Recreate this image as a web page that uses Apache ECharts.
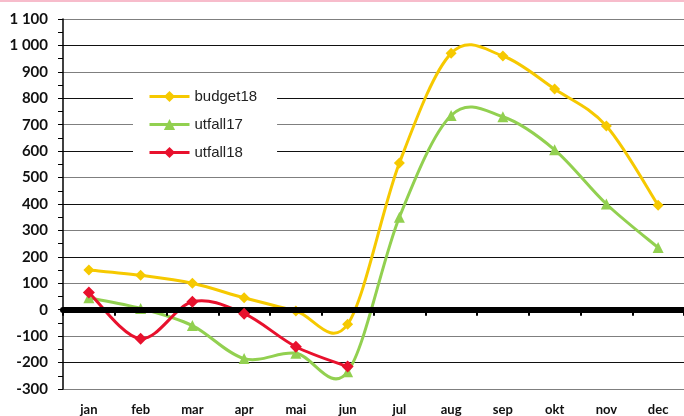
<!DOCTYPE html>
<html><head><meta charset="utf-8">
<script src="https://cdn.jsdelivr.net/npm/echarts@6/dist/echarts.min.js"></script>
<style>html,body{margin:0;padding:0;background:#fff}#c{width:684px;height:416px}</style>
</head><body><div id="c"></div>
<script>
var months = ['jan','feb','mar','apr','mai','jun','jul','aug','sep','okt','nov','dec'];
var budget18 = [150,130,100,45,-5,-55,555,970,960,835,695,395];
var utfall17 = [45,5,-60,-185,-165,-235,350,735,730,605,400,235];
var utfall18 = [65,-110,30,-15,-140,-215];
var yMin = -300, yMax = 1100, yStep = 100;

var COLORS = {budget18:'#f6c900', utfall17:'#92d050', utfall18:'#e8112d'};

// Excel-like (Catmull-Rom) smoothed curve drawn segment by segment through the axis scales
function curveSeries(name, arr, z){
  return {
    name: name+'_curve', type:'custom', z:z, silent:true,
    data: arr.map(function(v,i){return [i,v];}),
    encode:{x:0,y:1},
    renderItem:function(params, api){
      var i = params.dataIndex, n = arr.length;
      if (i >= n-1) return null;
      var p0 = api.coord([Math.max(i-1,0), arr[Math.max(i-1,0)]]);
      var p1 = api.coord([i, arr[i]]);
      var p2 = api.coord([i+1, arr[i+1]]);
      var p3 = api.coord([Math.min(i+2,n-1), arr[Math.min(i+2,n-1)]]);
      return {
        type:'bezierCurve',
        shape:{x1:p1[0],y1:p1[1],x2:p2[0],y2:p2[1],
               cpx1:p1[0]+(p2[0]-p0[0])/6, cpy1:p1[1]+(p2[1]-p0[1])/6,
               cpx2:p2[0]-(p3[0]-p1[0])/6, cpy2:p2[1]-(p3[1]-p1[1])/6},
        style:{stroke:COLORS[name], lineWidth:3, fill:null, lineCap:'round'}
      };
    }
  };
}
function markerSeries(name, arr, symbol, size, z){
  return {name:name,type:'line',data:arr,symbol:symbol,symbolSize:size,z:z,
    itemStyle:{color:COLORS[name]},lineStyle:{width:0,color:COLORS[name]}};
}

var chart = echarts.init(document.getElementById('c'));
chart.setOption({
  animation:false,
  backgroundColor:'#fff',
  graphic:[{type:'rect',shape:{x:0,y:0,width:684,height:2},style:{fill:'#f7bccb'},z:100}],
  grid:{left:63,right:-2,top:19,bottom:24},
  legend:{
    left:133, top:84, orient:'vertical', backgroundColor:'#fff',
    padding:[5,20,8,15], itemWidth:40, itemHeight:14, itemGap:13,
    textStyle:{fontFamily:'Liberation Sans, Arial',fontSize:15,color:'#222'},
    data:[
      {name:'budget18',lineStyle:{width:3,color:COLORS.budget18}},
      {name:'utfall17',lineStyle:{width:3,color:COLORS.utfall17}},
      {name:'utfall18',lineStyle:{width:3,color:COLORS.utfall18}}
    ]
  },
  xAxis:[{
    type:'category', data:months, boundaryGap:true,
    axisLine:{onZero:true,lineStyle:{color:'#000',width:6}},
    axisTick:{show:true,length:6,lineStyle:{color:'#000',width:2}},
    axisLabel:{show:false}, z:5
  },{
    type:'category', data:months, boundaryGap:true, position:'bottom',
    axisLine:{show:false,onZero:false}, axisTick:{show:false},
    axisLabel:{margin:14,fontFamily:'Lato, Liberation Sans',fontWeight:'bold',fontSize:13,color:'#111'}
  }],
  yAxis:{
    type:'value', min:yMin, max:yMax, interval:yStep,
    axisLine:{show:true,lineStyle:{color:'#000',width:1.5}},
    axisTick:{show:true,length:5,lineStyle:{color:'#000'}},
    minorTick:{show:true,splitNumber:2,length:5,lineStyle:{color:'#000'}},
    splitLine:{show:true,lineStyle:{color:['#7f7f7f','#111'],width:1.2}},
    axisLabel:{margin:15,fontFamily:'Lato, Liberation Sans',fontWeight:'bold',fontSize:15,color:'#111',
      formatter:function(v){var s=Math.abs(v).toString();if(s.length>3)s=s.slice(0,s.length-3)+' '+s.slice(-3);return (v<0?'-':'')+s;}}
  },
  series:[
    curveSeries('budget18', budget18, 2),
    curveSeries('utfall17', utfall17, 2),
    curveSeries('utfall18', utfall18, 3),
    markerSeries('budget18', budget18, 'diamond', 11, 4),
    markerSeries('utfall17', utfall17, 'triangle', 11, 4),
    markerSeries('utfall18', utfall18, 'diamond', 12, 5)
  ]
});
</script></body></html>
